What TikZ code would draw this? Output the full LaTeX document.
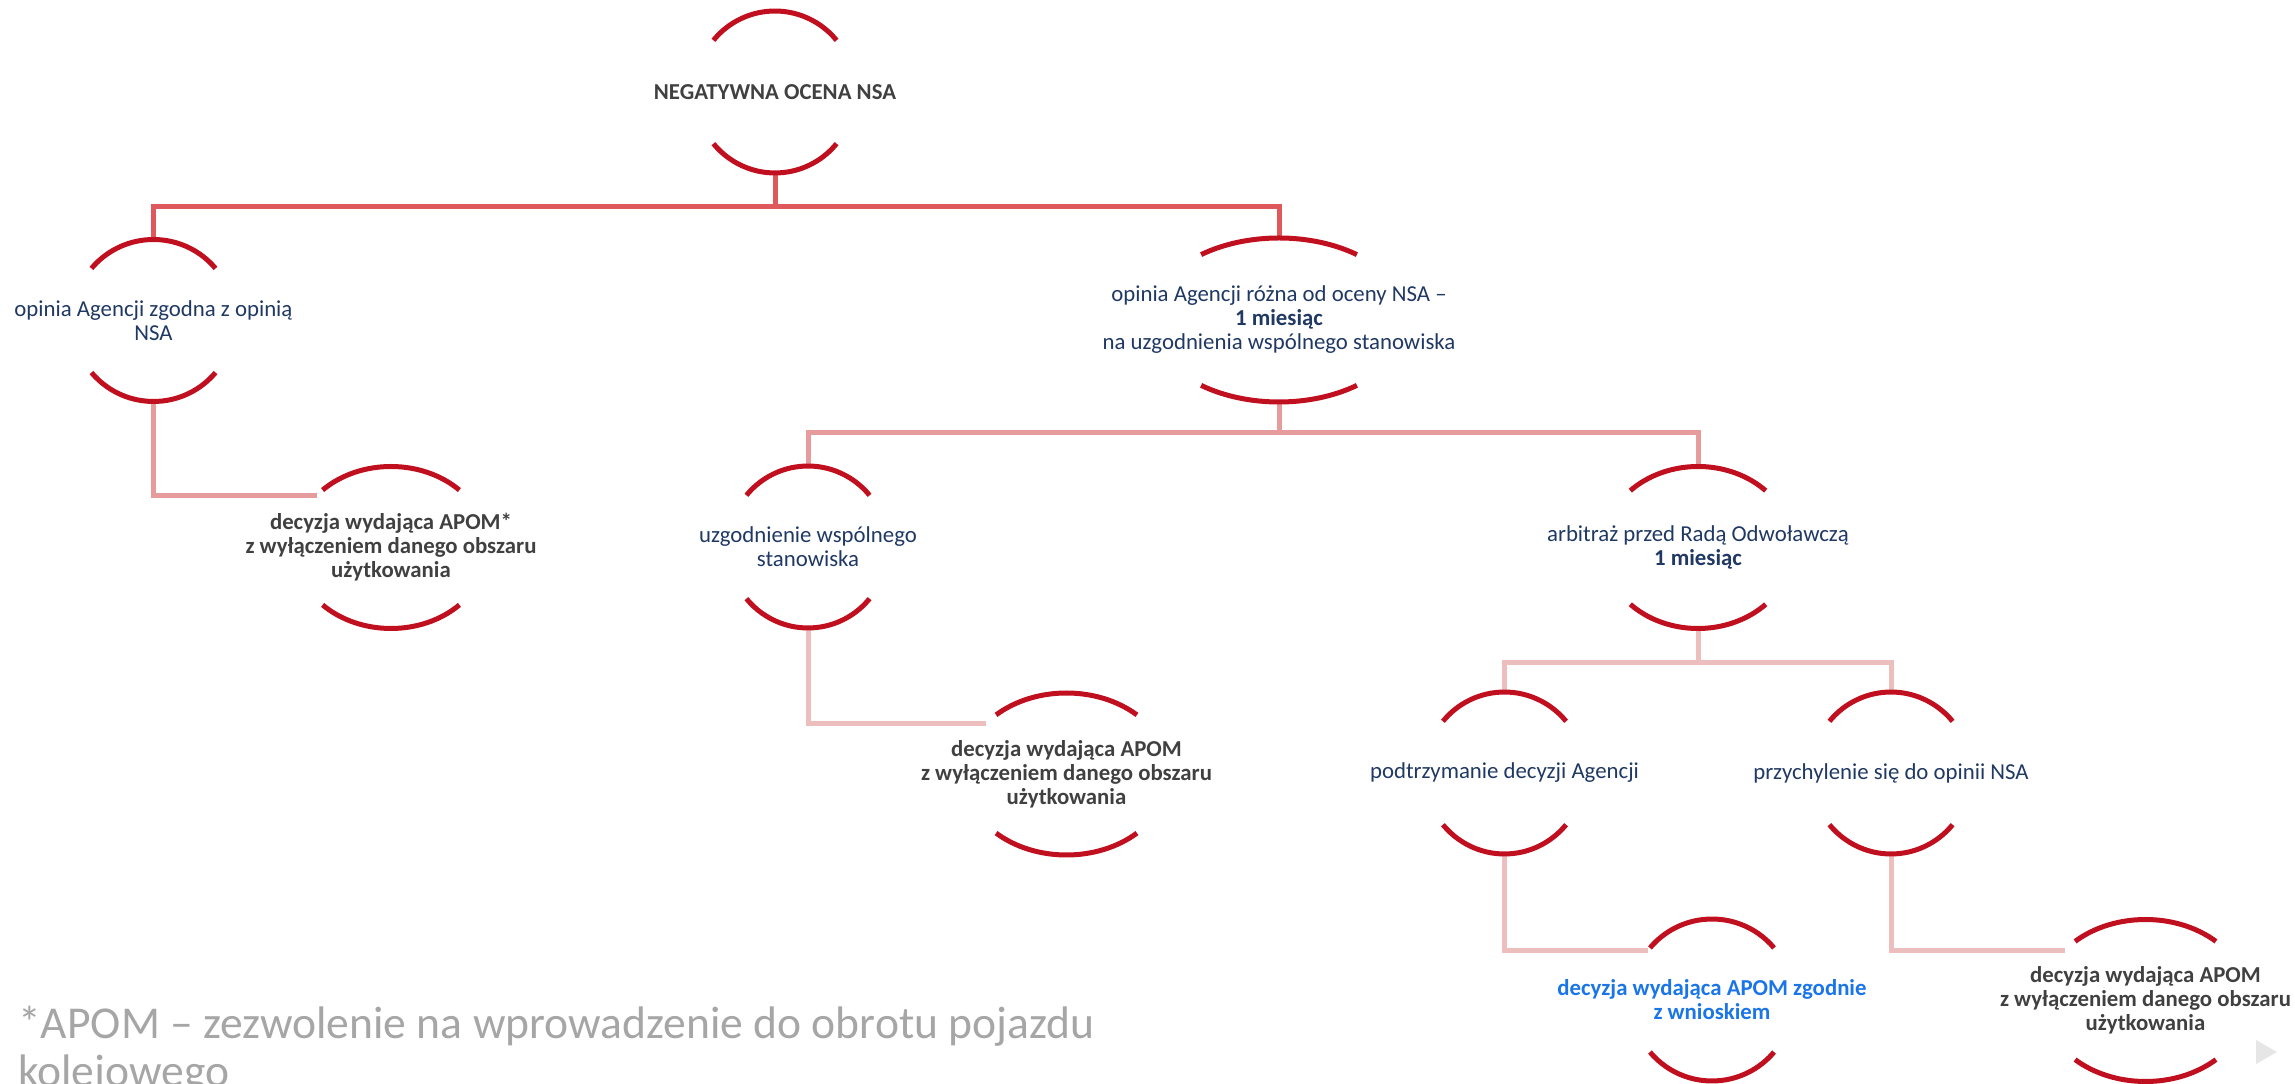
\documentclass[tikz,border=0pt]{standalone}
\usepackage{fontspec}
\setmainfont{Carlito}
\usepackage{tikz}
\usetikzlibrary{shapes.geometric, calc}

\definecolor{arcred}{RGB}{192,15,30}
\definecolor{linkA}{RGB}{222,88,92}
\definecolor{linkB}{RGB}{230,155,157}
\definecolor{linkC}{RGB}{237,190,190}
\definecolor{navy}{RGB}{31,56,100}
\definecolor{darkgrey}{RGB}{64,64,64}
\definecolor{brightblue}{RGB}{26,117,232}
\definecolor{footgrey}{RGB}{166,166,166}
\definecolor{navgrey}{RGB}{230,230,230}

\newcommand{\boxfont}{\fontsize{22.8}{24}\selectfont}

\tikzstyle{shell} = [ellipse, inner sep=0pt, outer sep=0pt, minimum height=162pt]
\tikzstyle{ring} = [line width=5pt, draw=arcred]
\tikzstyle{headtxt} = [font=\boxfont\bfseries, text=darkgrey, align=center]
\tikzstyle{opintxt} = [font=\boxfont, text=navy, align=center]
\tikzstyle{decistxt} = [font=\boxfont\bfseries, text=darkgrey, align=center]
\tikzstyle{granttxt} = [font=\boxfont\bfseries, text=brightblue, align=center]
\tikzstyle{link1} = [line width=5pt, draw=linkA]
\tikzstyle{link2} = [line width=5pt, draw=linkB]
\tikzstyle{link3} = [line width=5pt, draw=linkC]

% upper and lower arc of a node, between 40 and 140 degrees
\newcommand{\ringarcs}[1]{%
  \draw[ring] let \p1=($(#1.east)-(#1.center)$), \p2=($(#1.north)-(#1.center)$),
    \n1={atan(\x1/\y2*tan(40))} in
    (#1.40) arc[start angle=\n1, end angle=180-\n1, x radius=\x1, y radius=\y2]
    (#1.220) arc[start angle=180+\n1, end angle=360-\n1, x radius=\x1, y radius=\y2];
}

\begin{document}
\begin{tikzpicture}[x=1pt, y=1pt]
\useasboundingbox (0,0) rectangle (2295,1084);
\clip (0,0) rectangle (2295,1084);

\node (neg) [shell, minimum width=160pt, label={[headtxt]center:NEGATYWNA OCENA NSA}] at (775,992) {};

\node (zgod) [shell, minimum width=162pt, label={[opintxt]center:{opinia Agencji zgodna z opinią\\NSA}}] at (153.5,763.5) {};
\node (rozn) [shell, minimum width=258pt, minimum height=164pt, label={[opintxt]center:{opinia Agencji różna od oceny NSA –\\\textbf{1 miesiąc}\\na uzgodnienia wspólnego stanowiska}}] at (1279,764) {};

\node (dec1) [shell, minimum width=194pt, label={[decistxt]center:{decyzja wydająca APOM*\\z wyłączeniem danego obszaru\\użytkowania}}] at (391,536.5) {};
\node (uzg) [shell, minimum width=160pt, label={[opintxt]center:{uzgodnienie wspólnego\\stanowiska}}] at (808,537) {};
\node (arb) [shell, minimum width=190pt, label={[opintxt]center:{arbitraż przed Radą Odwoławczą\\\textbf{1 miesiąc}}}] at (1698,536.5) {};

\node (dec2) [shell, minimum width=206pt, label={[decistxt]center:{decyzja wydająca APOM\\z wyłączeniem danego obszaru\\użytkowania}}] at (1066.5,310) {};
\node (podt) [shell, minimum width=160pt, label={[opintxt]center:podtrzymanie decyzji Agencji}] at (1504.5,311) {};
\node (przy) [shell, minimum width=160pt, label={[opintxt]center:przychylenie się do opinii NSA}] at (1891,311) {};

\node (decz) [shell, minimum width=162pt, label={[granttxt]center:{decyzja wydająca APOM zgodnie\\z wnioskiem}}] at (1712,84) {};
\node (dec3) [shell, minimum width=206pt, label={[decistxt]center:{decyzja wydająca APOM\\z wyłączeniem danego obszaru\\użytkowania}}] at (2145.5,83.5) {};

\node (foot) [anchor=north west, inner sep=0pt, align=left, text=footgrey, font=\fontsize{45.6}{48}\selectfont] at (18,78) {*APOM – zezwolenie na wprowadzenie do obrotu pojazdu\\kolejowego};

\draw[link1] (neg.south) -- ++(0,-34) -| (zgod.north);
\draw[link1] (neg.south) -- ++(0,-34) -| (rozn.north);
\draw[link2] (zgod.south) |- (dec1.145);
\draw[link2] (rozn.south) -- ++(0,-31) -| (uzg.north);
\draw[link2] (rozn.south) -- ++(0,-31) -| (arb.north);
\draw[link3] (uzg.south) |- (dec2.148);
\draw[link3] (arb.south) -- ++(0,-34) -| (podt.north);
\draw[link3] (arb.south) -- ++(0,-34) -| (przy.north);
\draw[link3] (podt.south) |- (decz.142);
\draw[link3] (przy.south) |- (dec3.148);

\foreach \nd in {neg, zgod, rozn, dec1, uzg, arb, dec2, podt, przy, decz, dec3} {
  \ringarcs{\nd}
}

\fill[navgrey] (2256,44) -- (2256,20) -- (2277,32) -- cycle;
\end{tikzpicture}
\end{document}
